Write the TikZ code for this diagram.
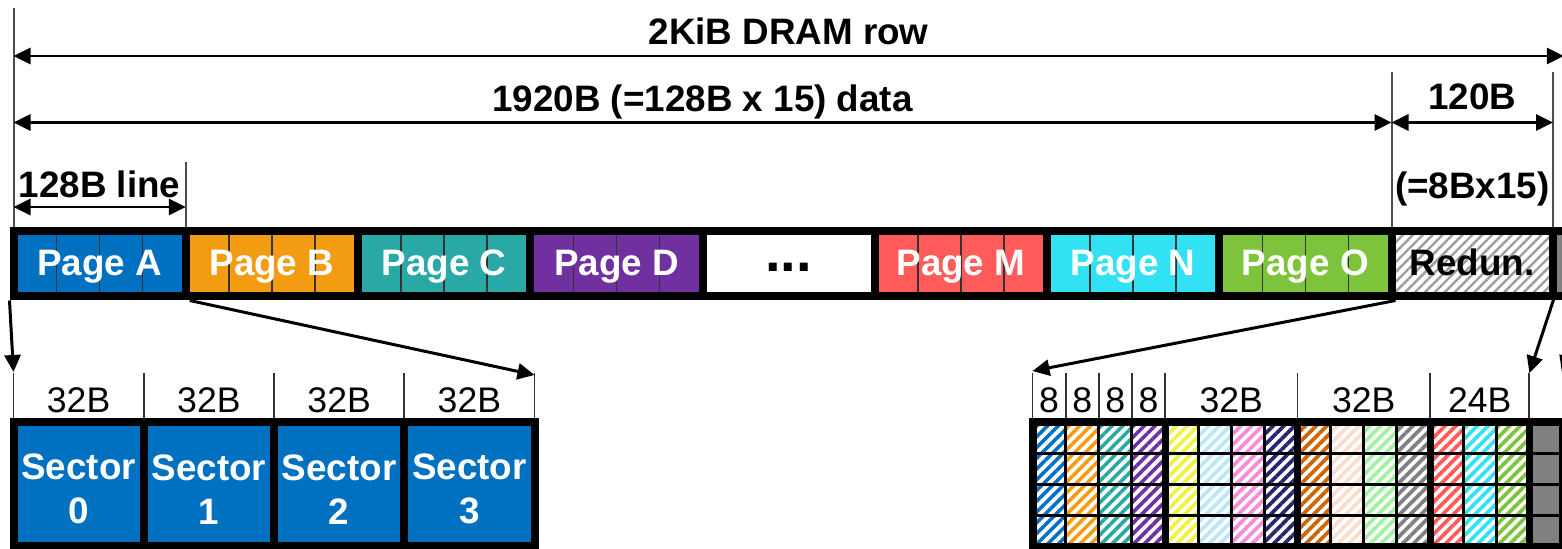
\documentclass[tikz,border=0pt]{standalone}
\usepackage{fontspec}
\setmainfont{Liberation Sans}
\usetikzlibrary{arrows.meta,patterns.meta,calc}

% page colours (A..O)
\definecolor{cA}{HTML}{0070C0}
\definecolor{cB}{HTML}{F39C12}
\definecolor{cC}{HTML}{29A8A6}
\definecolor{cD}{HTML}{7030A0}
\definecolor{cE}{HTML}{F2F23A}
\definecolor{cF}{HTML}{B8E8F8}
\definecolor{cG}{HTML}{F28CDB}
\definecolor{cH}{HTML}{262670}
\definecolor{cI}{HTML}{CC6600}
\definecolor{cJ}{HTML}{FADDCC}
\definecolor{cK}{HTML}{A0F2A0}
\definecolor{cL}{HTML}{808080}
\definecolor{cM}{HTML}{FF5B5B}
\definecolor{cN}{HTML}{33E1F5}
\definecolor{cO}{HTML}{7DC33B}

\newcommand\bigbold{\fontsize{18.4}{22}\selectfont\bfseries}
\newcommand\dimfont{\fontsize{17.8}{21}\selectfont}

\begin{document}
\begin{tikzpicture}[x=0.5pt,y=-0.5pt,
  extline/.style={draw=black!70, line width=1pt},
  tick/.style={draw=black!80, line width=0.9pt},
  dimarrow/.style={line width=1.4pt,
    {Triangle[length=8.5pt,width=8pt]}-{Triangle[length=8.5pt,width=8pt]}},
  maparrow/.style={line width=1.5pt, -{Triangle[length=8.5pt,width=8pt]}},
  dimlabel/.style={font=\bigbold, inner sep=0pt, text height=13.1pt, text depth=0pt},
  sizelabel/.style={font=\dimfont, inner sep=0pt, text height=12.75pt, text depth=0pt},
  slot/.style={draw=black, line width=4pt, minimum height=32.5pt, inner sep=0pt,
    font=\bigbold, text height=13.1pt, text depth=2pt},
  quartered/.style={path picture={
    \foreach \i in {1,2,3}{
      \draw[black!80, line width=0.8pt]
        ($(path picture bounding box.south west)!\i/4!(path picture bounding box.south east)$) --
        ($(path picture bounding box.north west)!\i/4!(path picture bounding box.north east)$);
    }}},
  pageslot/.style={slot, minimum width=86.125pt, text=white, quartered},
  sectorbox/.style={draw=black, line width=4pt, fill=cA, minimum width=65.125pt,
    minimum height=61.75pt, inner sep=0pt},
  sectortext/.style={font=\bigbold, text=white, align=center, inner sep=0pt},
  cellhatch/.style={pattern={Lines[angle=45,distance=3.8pt,line width=1.8pt]}},
]
\useasboundingbox (0,0) rectangle (1562,549);
\clip (0,0) rectangle (1562,549);
\fill[white] (0,0) rectangle (1562,549);

% ---------- dimension labels ----------
\node[dimlabel] (t2k)   at (788.6,31)   {2KiB DRAM row};
\node[dimlabel] (t1920) at (702.5,98.5) {1920B (=128B x 15) data};
\node[dimlabel] (t120)  at (1472.25,96) {120B};
\node[dimlabel] (t8x15) at (1472.25,185) {(=8Bx15)};
\node[dimlabel] (t128)  at (99.6,184)   {128B line};

% ---------- extension lines ----------
\coordinate (eA) at (13.5,8);
\coordinate (eB) at (185.75,162);
\coordinate (eC) at (1391.5,72);
\coordinate (eD) at (1553,72);
\draw[extline] (eA) -- (13.5,227);
\draw[extline] (eB) -- (185.75,227);
\draw[extline] (eC) -- (1391.5,227);
\draw[extline] (eD) -- (1553,227);

% ---------- dimension arrows ----------
\coordinate (d2kL) at (13.5,56);    \coordinate (d2kR) at (1563.8,56);
\coordinate (d19L) at (13.5,122.5); \coordinate (d19R) at (1391.5,122.5);
\coordinate (d12R) at (1553,122.5);
\coordinate (d128L) at (13.5,207);  \coordinate (d128R) at (185.75,207);
\draw[dimarrow] (d2kL) -- (d2kR);
\draw[dimarrow] (d19L) -- (d19R);
\draw[dimarrow] (d19R) -- (d12R);
\draw[dimarrow] (d128L) -- (d128R);

% ---------- the DRAM row ----------
\node[pageslot, fill=cA] (pA) at (99.625,264)  {Page A};
\node[pageslot, fill=cB] (pB) at (271.875,264) {Page B};
\node[pageslot, fill=cC] (pC) at (444.125,264) {Page C};
\node[pageslot, fill=cD] (pD) at (616.375,264) {Page D};
\node[slot, minimum width=86.125pt, fill=white] (pdots) at (788.625,264)
  {\raisebox{2pt}{\fontsize{28}{30}\selectfont...}};
\node[pageslot, fill=cM] (pM) at (960.875,264)  {Page M};
\node[pageslot, fill=cN] (pN) at (1133.125,264) {Page N};
\node[pageslot, fill=cO] (pO) at (1305.375,264) {Page O};
\node[slot, minimum width=80.75pt,
      pattern={Lines[angle=45,distance=3.5pt,line width=1.2pt]}, pattern color=black!38]
      (rd) at (1472.25,264) {Redun.};
\node[slot, minimum width=23.5pt, fill=gray] (tail) at (1576.5,264) {};

% ---------- sector block ----------
\foreach \k in {0,...,4}{
  \draw[tick] ({13.5+\k*130.25},373) -- ({13.5+\k*130.25},419);
}
\foreach \k in {0,...,3}{
  \node[sizelabel] (sz\k) at ({78.625+\k*130.25},400) {32B};
}
\foreach \k in {0,...,3}{
  \node[sectorbox] (s\k) at ({78.625+\k*130.25},484.25) {};
  \node[sectortext] (st\k) at ([yshift=-2.5pt]s\k.center) {Sector\\\k};
}

% ---------- redundancy block ----------
\def\gx{1032.5}
\def\gw{33.125}
\def\gy{422.5}
\def\gh{31}
\foreach \k in {0,1,2,3,4,8,12,15,16}{
  \draw[tick] ({\gx+\k*\gw},373) -- ({\gx+\k*\gw},419);
}
\foreach \k in {0,...,3}{
  \node[sizelabel] (r8\k) at ({\gx+(\k+0.5)*\gw},400) {8};
}
\node[sizelabel] (r32a) at ({\gx+6*\gw},400) {32B};
\node[sizelabel] (r32b) at ({\gx+10*\gw},400) {32B};
\node[sizelabel] (r24)  at ({\gx+13.5*\gw},400) {24B};

\foreach \c [count=\k from 0] in {cA,cB,cC,cD,cE,cF,cG,cH,cI,cJ,cK,cL,cM,cN,cO}{
  \foreach \r in {0,1,2,3}{
    \path[cellhatch, pattern color=\c]
      ({\gx+\k*\gw},{\gy+\r*\gh}) rectangle ++(\gw,\gh);
  }
}
\fill[gray] ({\gx+15*\gw},\gy) rectangle (1600,{\gy+4*\gh});
\foreach \k in {1,2,3,5,6,7,9,10,11,13,14}{
  \draw[line width=1.5pt] ({\gx+\k*\gw},\gy) -- ++(0,124);
}
\foreach \r in {1,2,3}{
  \draw[line width=1.5pt] (\gx,{\gy+\r*\gh}) -- (1600,{\gy+\r*\gh});
}
\foreach \k in {4,8,12,15,16}{
  \draw[line width=3.5pt] ({\gx+\k*\gw},\gy) -- ++(0,124);
}
\draw[line width=4pt] (1600,\gy) -- (\gx,\gy) -- (\gx,546.5) -- (1600,546.5);

% ---------- mapping arrows ----------
\coordinate (secL)  at (13.5,372);
\coordinate (secR)  at (534.5,375);
\coordinate (redL)  at (1032.5,371);
\coordinate (redR)  at (1529.4,373);
\coordinate (nextL) at (1562,373);
\coordinate (tailS) at (1586,300);
\draw[maparrow] (pA.south west) -- (secL);
\draw[maparrow] (pA.south east) -- (secR);
\draw[maparrow] (pO.south east) -- (redL);
\draw[maparrow] (rd.south east) -- (redR);
\draw[maparrow] (tailS) -- (nextL);
\end{tikzpicture}
\end{document}
